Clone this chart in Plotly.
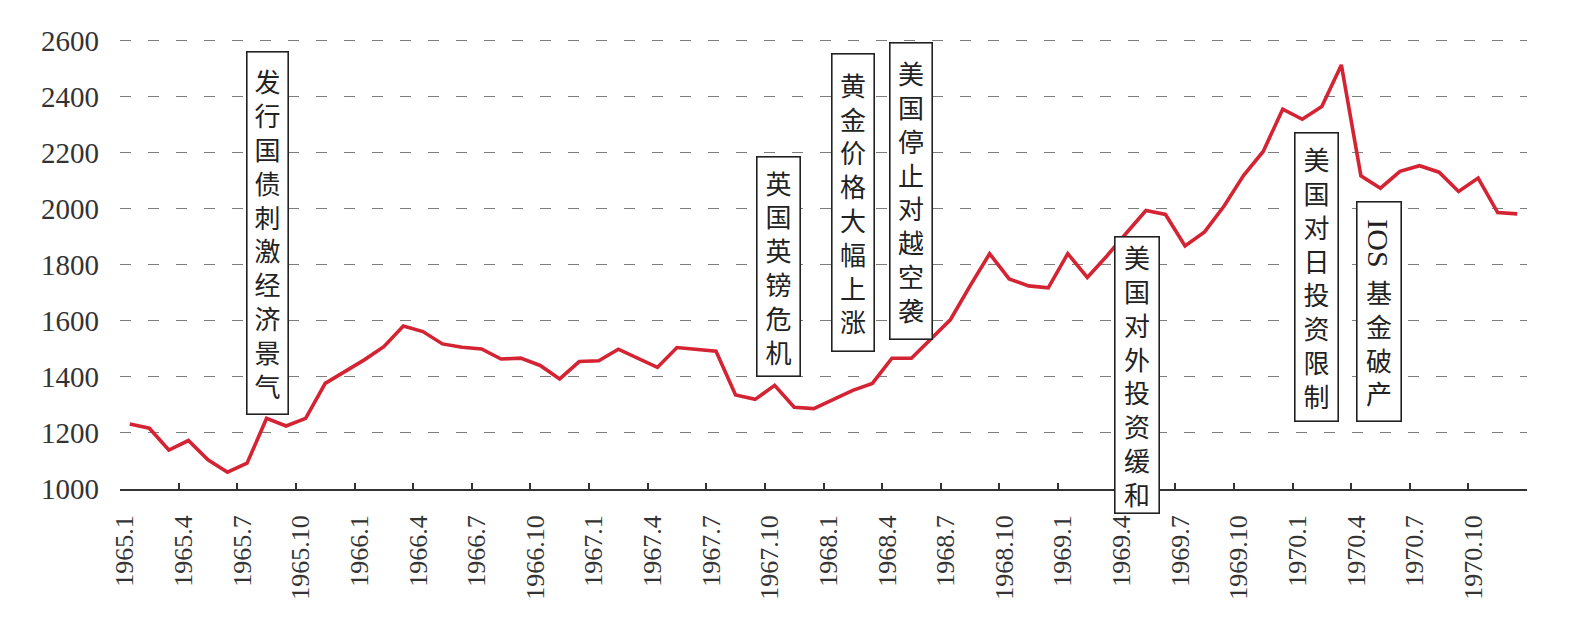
import plotly.graph_objects as go

# ---------------- data ----------------
months = [f"{y}.{m}" for y in range(1965, 1971) for m in range(1, 13)]

index_values = [
    1232, 1217, 1139, 1173, 1104, 1060, 1092, 1252, 1225, 1252, 1377, 1419,   # 1965
    1461, 1508, 1582, 1562, 1518, 1506, 1500, 1464, 1467, 1441, 1393, 1455,   # 1966
    1458, 1499, 1468, 1434, 1505, 1498, 1492, 1336, 1320, 1370, 1292, 1287,   # 1967
    1320, 1352, 1377, 1467, 1467, 1535, 1605, 1725, 1840, 1750, 1725, 1718,   # 1968
    1840, 1755, 1832, 1914, 1994, 1980, 1868, 1918, 2010, 2120, 2205, 2356,   # 1969
    2320, 2365, 2514, 2118, 2074, 2134, 2154, 2131, 2062, 2110, 1987, 1982,   # 1970
]

tick_labels = ["1965.1", "1965.4", "1965.7", "1965.10",
               "1966.1", "1966.4", "1966.7", "1966.10",
               "1967.1", "1967.4", "1967.7", "1967.10",
               "1968.1", "1968.4", "1968.7", "1968.10",
               "1969.1", "1969.4", "1969.7", "1969.10",
               "1970.1", "1970.4", "1970.7", "1970.10"]

y_ticks = [1000, 1200, 1400, 1600, 1800, 2000, 2200, 2400, 2600]

events = ["发行国债刺激经济景气", "英国英镑危机", "黄金价格大幅上涨", "美国停止对越空袭",
          "美国对外投资缓和", "美国对日投资限制"]
ios_prefix = "IOS"
ios_rest = "基金破产"

# ---------------- figure ----------------
x_idx = list(range(len(months)))

fig = go.Figure()
fig.add_trace(go.Scatter(
    x=x_idx, y=index_values, mode="lines",
    line=dict(color="rgb(212,36,52)", width=3.6),
    hoverinfo="skip", showlegend=False,
))

tickvals = [-0.5 + 3 * k for k in range(len(tick_labels) + 1)]
ticktext = tick_labels + [""]

serif = "Liberation Serif, Times New Roman, serif"
cjk = "Noto Sans CJK SC"

fig.update_layout(
    width=1586, height=625,
    margin=dict(l=120, r=59, t=38, b=136),
    paper_bgcolor="white", plot_bgcolor="white",
    showlegend=False,
    xaxis=dict(
        range=[-0.5, 71.5], tickmode="array", tickvals=tickvals, ticktext=ticktext,
        tickangle=-90, ticks="inside", ticklen=6, tickwidth=1.5, tickcolor="#333",
        showline=True, linecolor="#333", linewidth=1.5, showgrid=False, zeroline=False,
        tickfont=dict(family=serif, size=26, color="#333"),
        ticklabelshift=5, ticklabelstandoff=14,
    ),
    yaxis=dict(
        range=[1000, 2610], tickmode="array", tickvals=y_ticks,
        ticktext=[str(v) for v in y_ticks],
        showline=False, ticks="", zeroline=False,
        showgrid=True, gridcolor="#7d7d7d", gridwidth=1.4, griddash="11px,17px",
        tickfont=dict(family=serif, size=29, color="#333"),
        ticklabelstandoff=20,
    ),
)

# box geometry: (x center in data units, y center in data units, width px, height px)
boxes = [
    (7.06, 1914, 43, 364),
    (33.22, 1794, 45, 221),
    (37.01, 2023, 44, 299),
    (39.98, 2064, 44, 298),
    (51.56, 1408, 46, 278),
    (60.75, 1757, 45, 290),
]
bw = 1.6
for text, (cx, cy, w, h) in zip(events, boxes):
    fig.add_annotation(
        x=cx, y=cy, xref="x", yref="y", showarrow=False,
        text="<br>".join(list(text)),
        font=dict(family=cjk, size=26, color="#222"),
        bordercolor="#222", borderwidth=bw, borderpad=0,
        bgcolor="white", width=w - 2 * bw, height=h - 2 * bw,
        xanchor="center", yanchor="middle", align="center",
    )

# IOS box
fig.add_annotation(
    x=63.91, y=1634, xref="x", yref="y", showarrow=False, text=" ",
    bordercolor="#222", borderwidth=bw, borderpad=0, bgcolor="white",
    width=46 - 2 * bw, height=221 - 2 * bw, xanchor="center", yanchor="middle",
)
fig.add_annotation(
    x=63.91, y=1878, xref="x", yref="y", showarrow=False, text=ios_prefix,
    textangle=90, font=dict(family=serif, size=30, color="#222"),
    xanchor="center", yanchor="middle",
)
fig.add_annotation(
    x=63.91, y=1526, xref="x", yref="y", showarrow=False,
    text="<br>".join(list(ios_rest)),
    font=dict(family=cjk, size=26, color="#222"),
    xanchor="center", yanchor="middle",
)

fig.write_html("out.html")
